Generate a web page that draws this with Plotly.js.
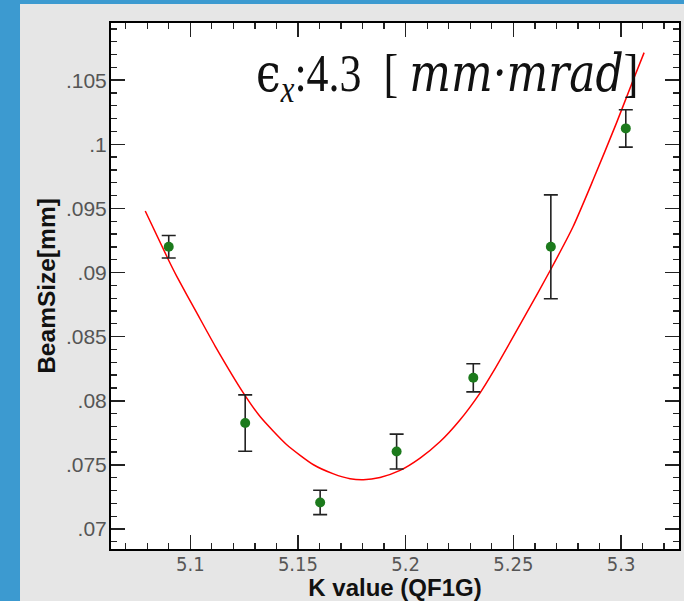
<!DOCTYPE html>
<html>
<head>
<meta charset="utf-8">
<script src="https://cdn.plot.ly/plotly-3.0.1.min.js"></script>
<style>
  html, body { margin: 0; padding: 0; background: #3c9ad0; }
  #chart { width: 684px; height: 601px; }
</style>
</head>
<body>
<div id="chart"></div>
<script>
// Measured points (K value of QF1G vs beam size)
const kValues   = [5.0900, 5.1255, 5.1603, 5.1958, 5.2314, 5.2674, 5.3022];
const beamSize  = [0.09201, 0.07826, 0.07207, 0.07604, 0.08179, 0.09201, 0.10124];
const beamError = [0.00088, 0.00220, 0.00095, 0.00136, 0.00110, 0.00405, 0.00146];

// Fit curve
const fitK    = [5.0791, 5.0899, 5.0938, 5.1031, 5.1116, 5.1247, 5.1325, 5.1448, 5.1572, 5.1665, 5.1742, 5.1804, 5.1881, 5.1974, 5.2067, 5.2159, 5.2252, 5.2345, 5.2406, 5.2561, 5.2669, 5.2777, 5.2870, 5.2978, 5.3056, 5.3107];
const fitSize = [0.09480, 0.09098, 0.08968, 0.08683, 0.08425, 0.08060, 0.07875, 0.07657, 0.07501, 0.07430, 0.07392, 0.07384, 0.07402, 0.07457, 0.07553, 0.07680, 0.07850, 0.08060, 0.08225, 0.08683, 0.09010, 0.09357, 0.09721, 0.10163, 0.10500, 0.10715];

// Tick labels
const xTickVals  = [5.1, 5.15, 5.2, 5.25, 5.3];
const xTickText  = ["5.1", "5.15", "5.2", "5.25", "5.3"];
const yTickVals  = [0.07, 0.075, 0.08, 0.085, 0.09, 0.095, 0.1, 0.105];
const yTickText  = [".07", ".075", ".08", ".085", ".09", ".095", ".1", ".105"];

const annotationText = '<span style="font-family:\'DejaVu Serif\'">ϵ</span><sub><i>x</i></sub>:4.3\u2002[ <span style="font-family:\'DejaVu Serif\'"><i>mm·mrad</i></span>]';

const traces = [
  {
    x: fitK, y: fitSize, type: 'scatter', mode: 'lines',
    line: { color: '#ff0000', width: 1.5, shape: 'spline', smoothing: 0.6 },
    hoverinfo: 'skip', showlegend: false
  },
  {
    x: kValues, y: beamSize, type: 'scatter', mode: 'markers',
    marker: { color: '#1c7a1c', size: 10, symbol: 'circle' },
    error_y: { type: 'data', array: beamError, visible: true, color: '#222222', thickness: 1.6, width: 7 },
    showlegend: false
  }
];

const axisCommon = {
  showline: true, linecolor: '#000000', linewidth: 2, mirror: 'ticks',
  ticks: 'inside', ticklen: 14, tickwidth: 1.5, tickcolor: '#222222',
  showgrid: false, zeroline: false
};

const layout = {
  width: 684, height: 601,
  margin: { l: 111, r: 5, t: 23, b: 52, pad: 0 },
  paper_bgcolor: '#3c9ad0',
  plot_bgcolor: '#ffffff',
  showlegend: false,
  xaxis: Object.assign({}, axisCommon, {
    range: [5.0632, 5.3269],
    tickmode: 'array', tickvals: xTickVals, ticktext: xTickText,
    ticklabelstandoff: -4,
    tickfont: { family: "'Liberation Sans Narrow', 'DejaVu Sans Condensed', 'Liberation Sans', sans-serif", size: 20, color: '#555555' },
    minor: { tickmode: 'linear', tick0: 5.0, dtick: 0.01, ticks: 'inside', ticklen: 6, tickwidth: 1.3, tickcolor: '#222222' },
    title: { text: 'K value (QF1G)', font: { family: "'Liberation Sans', Arial, sans-serif", size: 24, color: '#111111', weight: 'bold' }, standoff: 5 }
  }),
  yaxis: Object.assign({}, axisCommon, {
    range: [0.06844, 0.10946],
    tickmode: 'array', tickvals: yTickVals, ticktext: yTickText,
    ticklabelstandoff: -2,
    tickfont: { family: "'Liberation Sans', Arial, sans-serif", size: 21, color: '#555555' },
    minor: { tickmode: 'linear', tick0: 0.07, dtick: 0.001, ticks: 'inside', ticklen: 6, tickwidth: 1.3, tickcolor: '#222222' },
    title: { text: 'BeamSize[mm]', font: { family: "'Liberation Sans', Arial, sans-serif", size: 24.5, color: '#111111', weight: 'bold' }, standoff: 3 }
  }),
  shapes: [
    { type: 'rect', xref: 'paper', yref: 'paper', x0: -0.1602, x1: 1.03, y0: -0.12, y1: 1.0361,
      fillcolor: '#e6e6e6', line: { width: 0 }, layer: 'below' },
    { type: 'rect', xref: 'paper', yref: 'paper', x0: 0, x1: 1, y0: 0, y1: 1,
      fillcolor: '#ffffff', line: { width: 0 }, layer: 'below' }
  ],
  annotations: [
    { xref: 'paper', yref: 'paper', x: 0.2518, y: 0.901, xanchor: 'left', yanchor: 'middle',
      text: annotationText, showarrow: false,
      font: { family: "'Liberation Serif', 'Times New Roman', serif", size: 44, color: '#111111' } }
  ]
};

Plotly.newPlot('chart', traces, layout, { staticPlot: true, displayModeBar: false }).then(function () {
  // the reference's formula is drawn slightly taller than wide
  document.querySelectorAll('#chart .annotation-text-g text').forEach(function (t) {
    t.style.transformBox = 'fill-box';
    t.style.transformOrigin = 'center';
    t.style.transform = 'scaleY(1.2)';
  });
});
</script>
</body>
</html>
